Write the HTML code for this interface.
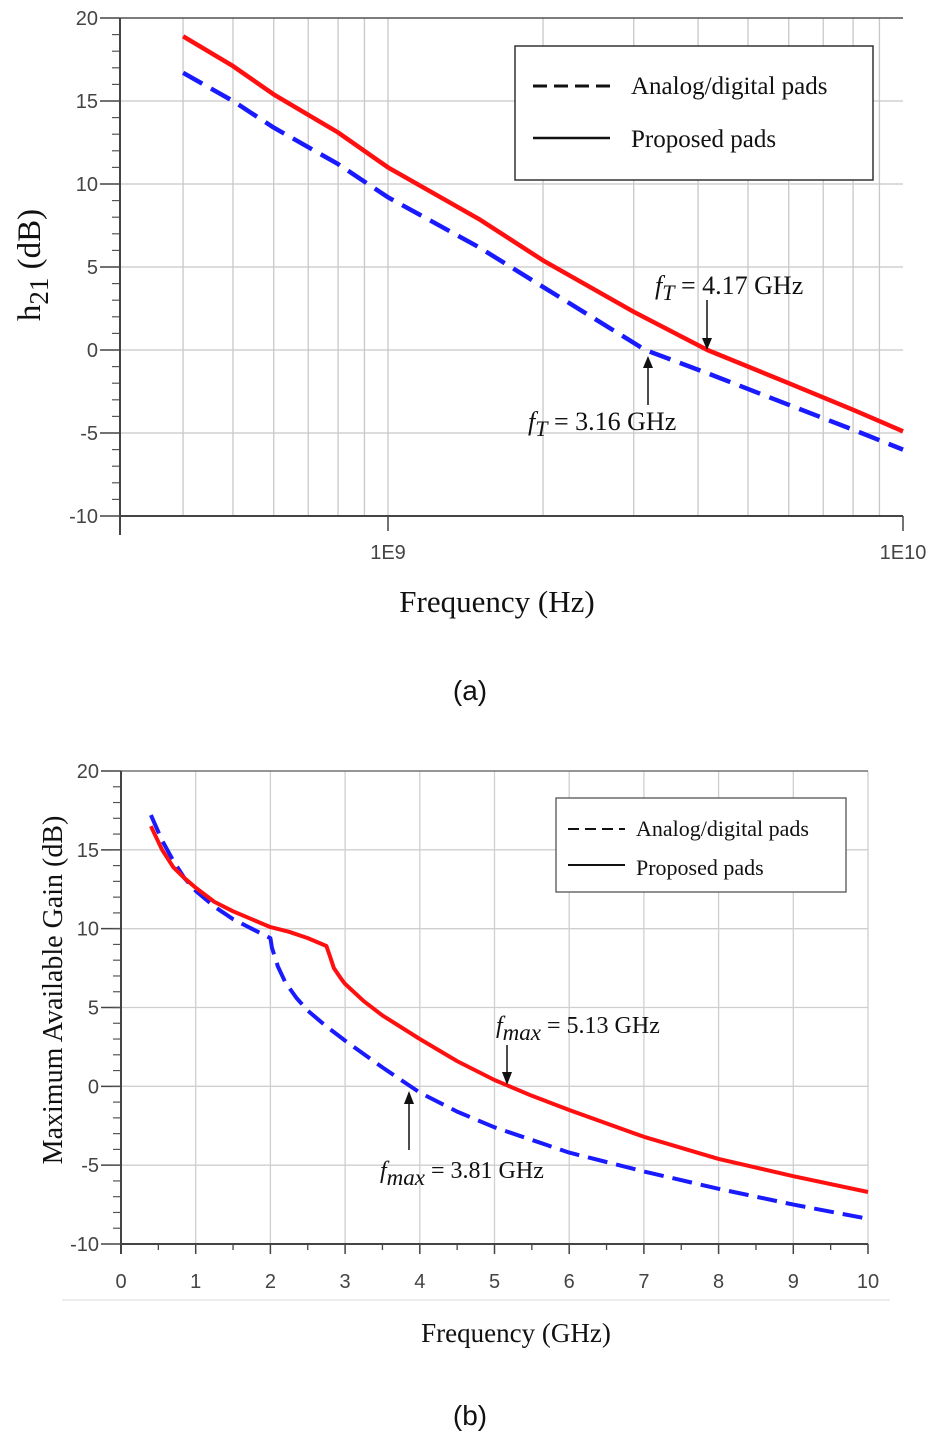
<!DOCTYPE html>
<html><head><meta charset="utf-8"><style>
html,body{margin:0;padding:0;background:#fff;}
svg{display:block;}
.tk{font-family:"Liberation Sans",sans-serif;font-size:20px;fill:#444;}
.sr{font-family:"Liberation Serif",serif;fill:#111;}
</style></head><body>
<svg id="svg" width="936" height="1440" viewBox="0 0 936 1440" xmlns="http://www.w3.org/2000/svg">
<g id="ga"></g>
<g id="gb"></g>
</svg>
<script>
// Chart (a) data
const aFreqs = [4e8, 5e8, 6e8, 8e8, 1e9, 1.5e9, 2e9, 3e9, 4.17e9, 6e9, 8e9, 1e10];
const aProposed = [18.9, 17.1, 15.4, 13.1, 11.0, 7.9, 5.4, 2.3, 0, -2.0, -3.6, -4.9];
const aAnalogFreqs = [4e8, 5e8, 6e8, 8e8, 1e9, 1.5e9, 2e9, 3.16e9, 4.17e9, 6e9, 8e9, 1e10];
const aAnalog = [16.7, 15.0, 13.4, 11.2, 9.2, 6.2, 3.8, 0, -1.4, -3.3, -4.8, -6.0];
const aYTicks = [20, 15, 10, 5, 0, -5, -10];
const aXTickLabels = ["1E9", "1E10"];
// Chart (b) data
const bFreqs = [0.4, 0.55, 0.7, 0.85, 1, 1.25, 1.5, 1.75, 2, 2.25, 2.5, 2.75, 2.8, 2.85, 2.95, 3, 3.25, 3.5, 4, 4.5, 5, 5.5, 6, 7, 8, 9, 10];
const bProposed = [16.5, 15.0, 13.9, 13.2, 12.6, 11.7, 11.1, 10.6, 10.1, 9.8, 9.4, 8.9, 8.2, 7.5, 6.8, 6.5, 5.4, 4.5, 3.0, 1.6, 0.4, -0.6, -1.5, -3.2, -4.6, -5.7, -6.7];
const bAnFreqs = [0.4, 0.55, 0.7, 0.85, 1, 1.25, 1.5, 1.75, 2, 2.02, 2.1, 2.2, 2.35, 2.5, 2.75, 3, 3.5, 4, 4.5, 5, 6, 7, 8, 9, 10];
const bAnalog = [17.2, 15.6, 14.3, 13.2, 12.4, 11.4, 10.6, 10.0, 9.4, 8.8, 7.6, 6.6, 5.6, 4.8, 3.8, 2.9, 1.2, -0.4, -1.6, -2.6, -4.2, -5.4, -6.5, -7.5, -8.4];
const bYTicks = [20, 15, 10, 5, 0, -5, -10];
const bXTicks = [0,1,2,3,4,5,6,7,8,9,10];

const NS = "http://www.w3.org/2000/svg";
function mk(parent, tag, attrs, text){
  const e = document.createElementNS(NS, tag);
  for (const k in attrs) e.setAttribute(k, attrs[k]);
  if (text !== undefined) e.textContent = text;
  parent.appendChild(e); return e;
}
function pathFrom(xs, ys, fx, fy){
  return xs.map((x,i)=>(i?'L':'M')+fx(x).toFixed(1)+','+fy(ys[i]).toFixed(1)).join(' ');
}

// ---------- Chart A ----------
const ga = document.getElementById('ga');
const aL=120, aR=903, aT=18, aB=516;
const ax = f => 388 + (Math.log10(f) - 9) * 515;
const ay = v => aT + (20 - v) * (aB - aT) / 30;
for (let d=8; d<=9; d++) for (let m=1; m<=9; m++){
  const f = m*Math.pow(10,d);
  if (f < 4e8 || f > 1e10) continue;
  let l = mk(ga,'line',{x1:ax(f),x2:ax(f),y1:aT,y2:aB,stroke:'#c8c8c8','stroke-width':1.3});
  
  
}
aYTicks.forEach(v=>{
  let l = mk(ga,'line',{x1:aL,x2:aR,y1:ay(v),y2:ay(v),stroke:'#c8c8c8','stroke-width':1.3});
  
  
  let t = mk(ga,'text',{x:aL-22,y:ay(v)+7,'text-anchor':'end',class:'tk'},String(v));
  
  
  mk(ga,'line',{x1:aL-20,x2:aL,y1:ay(v),y2:ay(v),stroke:'#444','stroke-width':1.5});
});
for (let v=-10; v<=20; v++) mk(ga,'line',{x1:aL-8,x2:aL,y1:ay(v),y2:ay(v),stroke:'#555','stroke-width':1.2});
mk(ga,'line',{x1:aL,x2:aR,y1:aT,y2:aT,stroke:'#555','stroke-width':1.5});
mk(ga,'line',{x1:aL,x2:aL,y1:aT,y2:535,stroke:'#444','stroke-width':2});
mk(ga,'line',{x1:aL,x2:aR,y1:aB,y2:aB,stroke:'#444','stroke-width':2});
[1e9,1e10].forEach((f,i)=>{
  mk(ga,'line',{x1:ax(f),x2:ax(f),y1:aB,y2:531,stroke:'#444','stroke-width':1.5});
  let t = mk(ga,'text',{x:ax(f),y:559,'text-anchor':'middle',class:'tk'},aXTickLabels[i]);
  
  
});
let pa1 = mk(ga,'path',{d:pathFrom(aAnalogFreqs,aAnalog,ax,ay),fill:'none',stroke:'#1a1aff','stroke-width':4.5,'stroke-dasharray':'22 10','stroke-linejoin':'round'});


let pa2 = mk(ga,'path',{d:pathFrom(aFreqs,aProposed,ax,ay),fill:'none',stroke:'#ff1010','stroke-width':4.5,'stroke-linejoin':'round'});


let lga = mk(ga,'g',{});


mk(lga,'rect',{x:515,y:46,width:358,height:134,fill:'#fff',stroke:'#333','stroke-width':1.5});
mk(lga,'line',{x1:533,x2:610,y1:86,y2:86,stroke:'#111','stroke-width':3,'stroke-dasharray':'14 7'});
mk(lga,'text',{x:631,y:94,class:'sr','font-size':25},'Analog/digital pads');
mk(lga,'line',{x1:533,x2:610,y1:138,y2:138,stroke:'#111','stroke-width':2.5});
mk(lga,'text',{x:631,y:147,class:'sr','font-size':25},'Proposed pads');
let an1 = mk(ga,'text',{x:655,y:294,class:'sr','font-size':26});
an1.innerHTML='<tspan font-style="italic">f</tspan><tspan font-style="italic" font-size="22" dy="6">T</tspan><tspan dy="-6"> = 4.17 GHz</tspan>';


mk(ga,'line',{x1:707,x2:707,y1:300,y2:340,stroke:'#111','stroke-width':1.5});
mk(ga,'path',{d:'M702,338 L712,338 L707,350 Z',fill:'#111'});
let an2 = mk(ga,'text',{x:528,y:430,class:'sr','font-size':26});
an2.innerHTML='<tspan font-style="italic">f</tspan><tspan font-style="italic" font-size="22" dy="6">T</tspan><tspan dy="-6"> = 3.16 GHz</tspan>';


mk(ga,'line',{x1:648,x2:648,y1:405,y2:366,stroke:'#111','stroke-width':1.5});
mk(ga,'path',{d:'M643,368 L653,368 L648,356 Z',fill:'#111'});
let xta = mk(ga,'text',{x:497,y:612,'text-anchor':'middle',class:'sr','font-size':31},'Frequency (Hz)');


let yta = mk(ga,'text',{transform:'translate(40,265) rotate(-90)','text-anchor':'middle',class:'sr','font-size':33});
yta.innerHTML='h<tspan font-size="27" dy="8">21</tspan><tspan dy="-8"> (dB)</tspan>';


let capa = mk(ga,'text',{x:470,y:700,'text-anchor':'middle','font-family':'Liberation Sans, sans-serif','font-size':28,fill:'#111'},'(a)');



// ---------- Chart B ----------
const gb = document.getElementById('gb');
const bL=121, bR=868, bT=771, bB=1244;
const bx = f => bL + f * (bR - bL) / 10;
const by = v => bT + (20 - v) * (bB - bT) / 30;
bXTicks.forEach(f=>{
  if (f>0){
    let l = mk(gb,'line',{x1:bx(f),x2:bx(f),y1:bT,y2:bB,stroke:'#cfcfcf','stroke-width':1.3});
    
    
  }
  mk(gb,'line',{x1:bx(f),x2:bx(f),y1:bB,y2:bB+10,stroke:'#444','stroke-width':1.5});
  if (f<10) mk(gb,'line',{x1:bx(f+0.5),x2:bx(f+0.5),y1:bB,y2:bB+6,stroke:'#444','stroke-width':1.3});
  let t = mk(gb,'text',{x:bx(f),y:1288,'text-anchor':'middle',class:'tk'},String(f));
  
  
});
bYTicks.forEach(v=>{
  let l = mk(gb,'line',{x1:bL,x2:bR,y1:by(v),y2:by(v),stroke:'#cfcfcf','stroke-width':1.3});
  
  
  let t = mk(gb,'text',{x:bL-22,y:by(v)+7,'text-anchor':'end',class:'tk'},String(v));
  
  
  mk(gb,'line',{x1:bL-20,x2:bL,y1:by(v),y2:by(v),stroke:'#444','stroke-width':1.5});
});
for (let v=-10; v<=20; v++) mk(gb,'line',{x1:bL-8,x2:bL,y1:by(v),y2:by(v),stroke:'#555','stroke-width':1.2});
mk(gb,'line',{x1:bL,x2:bR,y1:bT,y2:bT,stroke:'#777','stroke-width':1.5});
mk(gb,'line',{x1:bL,x2:bL,y1:bT,y2:bB+10,stroke:'#444','stroke-width':2});
mk(gb,'line',{x1:bL,x2:bR,y1:bB,y2:bB,stroke:'#444','stroke-width':2});
mk(gb,'line',{x1:62,x2:890,y1:1300,y2:1300,stroke:'#e6e6e6','stroke-width':1.5});
let pb1 = mk(gb,'path',{d:pathFrom(bAnFreqs,bAnalog,bx,by),fill:'none',stroke:'#1a1aff','stroke-width':4,'stroke-dasharray':'20 9','stroke-linejoin':'round'});


let pb2 = mk(gb,'path',{d:pathFrom(bFreqs,bProposed,bx,by),fill:'none',stroke:'#ff1010','stroke-width':4,'stroke-linejoin':'round'});


let lgb = mk(gb,'g',{});


mk(lgb,'rect',{x:556,y:798,width:290,height:94,fill:'#fff',stroke:'#555','stroke-width':1.3});
mk(lgb,'line',{x1:568,x2:625,y1:829,y2:829,stroke:'#111','stroke-width':2,'stroke-dasharray':'11 6'});
mk(lgb,'text',{x:636,y:836,class:'sr','font-size':22},'Analog/digital pads');
mk(lgb,'line',{x1:568,x2:625,y1:865,y2:865,stroke:'#111','stroke-width':2});
mk(lgb,'text',{x:636,y:875,class:'sr','font-size':22},'Proposed pads');
let bn1 = mk(gb,'text',{x:496,y:1033,class:'sr','font-size':24});
bn1.innerHTML='<tspan font-style="italic">f</tspan><tspan font-style="italic" font-size="23" dy="7">max</tspan><tspan dy="-7"> = 5.13 GHz</tspan>';


mk(gb,'line',{x1:507,x2:507,y1:1045,y2:1074,stroke:'#111','stroke-width':1.5});
mk(gb,'path',{d:'M502,1072 L512,1072 L507,1085 Z',fill:'#111'});
let bn2 = mk(gb,'text',{x:380,y:1178,class:'sr','font-size':24});
bn2.innerHTML='<tspan font-style="italic">f</tspan><tspan font-style="italic" font-size="23" dy="7">max</tspan><tspan dy="-7"> = 3.81 GHz</tspan>';


mk(gb,'line',{x1:409,x2:409,y1:1150,y2:1102,stroke:'#111','stroke-width':1.5});
mk(gb,'path',{d:'M404,1104 L414,1104 L409,1091 Z',fill:'#111'});
let xtb = mk(gb,'text',{x:516,y:1342,'text-anchor':'middle',class:'sr','font-size':27},'Frequency (GHz)');


let ytb = mk(gb,'text',{transform:'translate(62,990) rotate(-90)','text-anchor':'middle',class:'sr','font-size':28},'Maximum  Available Gain (dB)');


let capb = mk(gb,'text',{x:470,y:1425,'text-anchor':'middle','font-family':'Liberation Sans, sans-serif','font-size':28,fill:'#111'},'(b)');


</script>
</body></html>
